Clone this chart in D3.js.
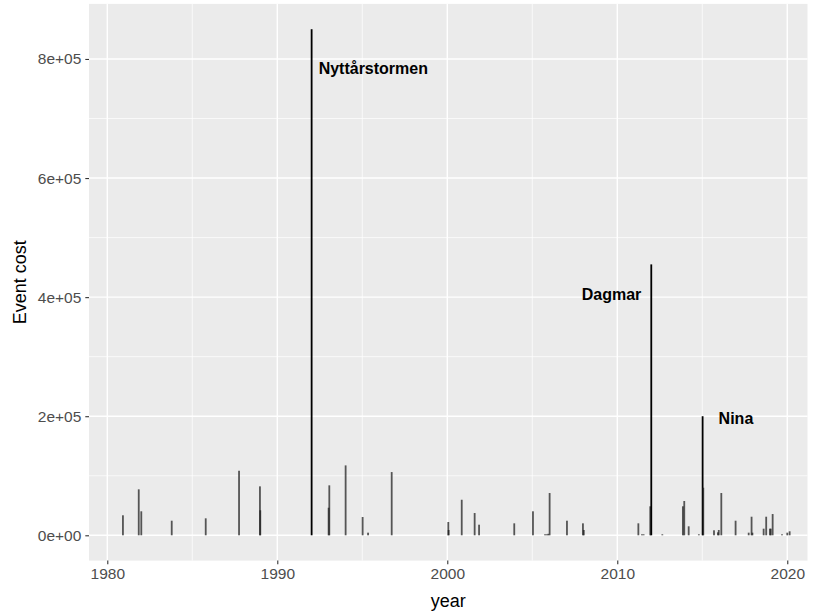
<!DOCTYPE html>
<html>
<head>
<meta charset="utf-8">
<script src="https://cdn.jsdelivr.net/npm/d3@7"></script>
<style>
  html, body { margin: 0; padding: 0; background: #ffffff; }
  svg { display: block; font-family: "Liberation Sans", Arial, sans-serif; }
</style>
</head>
<body>
<svg id="chart" width="813" height="614"></svg>
<script>
// Storm events: decimal year of occurrence and the cost of each event
const eventYear = [
  1980.92, 1981.85, 1982.00, 1983.79, 1985.79, 1987.75, 1988.98, 1989.00,
  1992.02, 1993.02, 1993.06, 1994.02, 1995.02, 1995.34, 1996.73,
  2000.06, 2000.08, 2000.85, 2001.61, 2001.87, 2003.94, 2005.04,
  2005.75, 2005.85, 2005.94, 2006.02, 2007.04, 2007.98, 2008.03,
  2011.24, 2011.45, 2011.55, 2011.94, 2012.00, 2012.65, 2013.86,
  2013.94, 2014.20, 2014.80, 2015.02, 2015.06, 2015.69, 2015.92,
  2015.97, 2016.12, 2016.96, 2017.73, 2017.90, 2017.95, 2018.61,
  2018.76, 2018.98, 2019.03, 2019.14, 2019.69, 2020.00, 2020.14
];
const eventCost = [
  33600, 77200, 40300, 24500, 28500, 108400, 82200, 42000,
  850000, 46300, 83900, 117400, 30700, 4400, 106200,
  22300, 8900, 59700, 37400, 17800, 20100, 40300,
  1700, 1700, 2500, 71000, 24500, 20100, 8900,
  20100, 1700, 1700, 48700, 455000, 1700, 48700,
  57600, 15100, 1700, 200000, 79900, 8400, 5000,
  8900, 71000, 24500, 4400, 31200, 4400, 11100,
  31200, 11100, 11100, 35700, 1700, 4400, 6700
];
// Named storms
const stormName = ["Nyttårstormen", "Dagmar", "Nina"];
const stormYear = [1992.02, 2012.00, 2015.02];

// Axis breaks
const xMajor = [1980, 1990, 2000, 2010, 2020];
const xMinor = [1985, 1995, 2005, 2015];
const yMajor = [0, 200000, 400000, 600000, 800000];
const yMinor = [100000, 300000, 500000, 700000];
const xTitle = "year";
const yTitle = "Event cost";

const events = eventYear.map((y, i) => ({ year: y, cost: eventCost[i] }));

const svg = d3.select("#chart");
const panel = { left: 89, right: 807.5, top: 3.9, bottom: 560.6 };

// Continuous scales with 5% padding around the data range
const x = d3.scaleLinear().domain([1978.924, 2021.19]).range([panel.left, panel.right]);
const maxCost = d3.max(eventCost);
const pad = maxCost * 0.05;
const y = d3.scaleLinear().domain([-pad, maxCost + pad]).range([panel.bottom, panel.top]);

// Panel background
svg.append("rect")
  .attr("x", panel.left).attr("y", panel.top)
  .attr("width", panel.right - panel.left).attr("height", panel.bottom - panel.top)
  .attr("fill", "#ebebeb");

// Grid lines
const grid = svg.append("g");
grid.selectAll(".xmin").data(xMinor).join("line")
  .attr("x1", d => x(d)).attr("x2", d => x(d))
  .attr("y1", panel.top).attr("y2", panel.bottom)
  .attr("stroke", "#ffffff").attr("stroke-width", 0.7);
grid.selectAll(".ymin").data(yMinor).join("line")
  .attr("y1", d => y(d)).attr("y2", d => y(d))
  .attr("x1", panel.left).attr("x2", panel.right)
  .attr("stroke", "#ffffff").attr("stroke-width", 0.7);
grid.selectAll(".xmaj").data(xMajor).join("line")
  .attr("x1", d => x(d)).attr("x2", d => x(d))
  .attr("y1", panel.top).attr("y2", panel.bottom)
  .attr("stroke", "#ffffff").attr("stroke-width", 1.4);
grid.selectAll(".ymaj").data(yMajor).join("line")
  .attr("y1", d => y(d)).attr("y2", d => y(d))
  .attr("x1", panel.left).attr("x2", panel.right)
  .attr("stroke", "#ffffff").attr("stroke-width", 1.4);

// Event bars: thin columns, overlapping events darken each other
const named = new Set(stormYear);
const barW = 1.8;
svg.append("g").selectAll("rect").data(events).join("rect")
  .attr("x", d => x(d.year) - barW / 2)
  .attr("width", barW)
  .attr("y", d => y(d.cost))
  .attr("height", d => y(0) - y(d.cost))
  .attr("fill", d => named.has(d.year) ? "#000000" : "#1a1a1a")
  .attr("fill-opacity", d => named.has(d.year) ? 1 : 0.72);

// Storm labels
const labelSpots = [
  { x: 1992.02, y: 785000, dx: 7, anchor: "start" },
  { x: 2012.00, y: 404000, dx: -10, anchor: "end" },
  { x: 2015.02, y: 196000, dx: 16, anchor: "start" }
];
svg.append("g").selectAll("text").data(stormName).join("text")
  .attr("x", (d, i) => x(labelSpots[i].x) + labelSpots[i].dx)
  .attr("y", (d, i) => y(labelSpots[i].y))
  .attr("dy", "0.35em")
  .attr("text-anchor", (d, i) => labelSpots[i].anchor)
  .attr("font-size", 16)
  .attr("font-weight", "bold")
  .attr("fill", "#000000")
  .text(d => d);

// Axes
const xAxis = svg.append("g")
  .attr("transform", `translate(0,${panel.bottom})`)
  .call(d3.axisBottom(x).tickValues(xMajor).tickFormat(d3.format("d")).tickSize(3.7).tickPadding(4));
const yAxis = svg.append("g")
  .attr("transform", `translate(${panel.left},0)`)
  .call(d3.axisLeft(y).tickValues(yMajor)
    .tickFormat(d => d === 0 ? "0e+00" : d3.format(".0e")(d).replace(/e\+(\d)$/, "e+0$1"))
    .tickSize(3.7).tickPadding(4));
[xAxis, yAxis].forEach(a => {
  a.select(".domain").remove();
  a.selectAll(".tick line").attr("stroke", "#333333").attr("stroke-width", 1.1);
  a.selectAll(".tick text").attr("fill", "#4d4d4d").attr("font-size", 15.5)
    .attr("font-family", "\"Liberation Sans\", Arial, sans-serif");
});

// Axis titles
svg.append("text")
  .attr("x", (panel.left + panel.right) / 2).attr("y", 607)
  .attr("text-anchor", "middle").attr("font-size", 18).attr("fill", "#000000")
  .text(xTitle);
svg.append("text")
  .attr("transform", `translate(26,${(panel.top + panel.bottom) / 2}) rotate(-90)`)
  .attr("text-anchor", "middle").attr("font-size", 18).attr("fill", "#000000")
  .text(yTitle);
</script>
</body>
</html>
